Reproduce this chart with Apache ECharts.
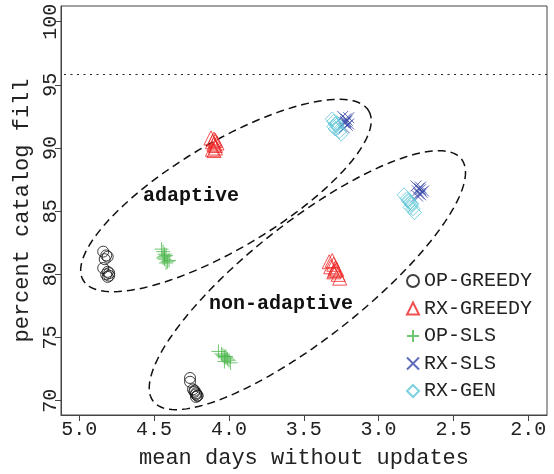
<!DOCTYPE html>
<html lang="en">
<head>
    <meta charset="UTF-8">
    <title>catalog fill</title>
    <style>
        html, body { margin: 0; padding: 0; background: #fff; }
        #chart { width: 554px; height: 474px; }
    </style>
</head>
<body>
    <div id="chart"></div>
    <script src="https://cdn.jsdelivr.net/npm/echarts@6/dist/echarts.min.js"></script>
    <script>
        // tick labels
        var xTicks = [5.0, 4.5, 4.0, 3.5, 3.0, 2.5, 2.0]
        var yTicks = [70, 75, 80, 85, 90, 95, 100]
        var refLevel = 95.8

        // adaptive runs
        var opGreedyAdX = [4.84, 4.82, 4.83, 4.81, 4.84, 4.81, 4.80, 4.82, 4.80, 4.81]
        var opGreedyAdY = [81.8, 81.5, 81.2, 81.4, 80.5, 80.2, 79.9, 80.0, 80.1, 79.8]
        var rxGreedyAdX = [4.12, 4.10, 4.09, 4.11, 4.08, 4.10, 4.09, 4.11, 4.10, 4.09]
        var rxGreedyAdY = [90.8, 90.7, 90.6, 90.5, 90.4, 90.3, 90.0, 89.9, 89.8, 90.2]
        var opSlsAdX = [4.45, 4.44, 4.43, 4.42, 4.44, 4.43, 4.41, 4.42, 4.43, 4.40]
        var opSlsAdY = [82.0, 81.8, 81.6, 81.5, 81.3, 81.2, 81.0, 80.9, 81.4, 81.1]
        var rxSlsAdX = [3.24, 3.22, 3.21, 3.23, 3.20, 3.22, 3.21, 3.23, 3.20, 3.22]
        var rxSlsAdY = [92.5, 92.3, 92.2, 92.0, 91.9, 92.1, 91.8, 91.6, 92.4, 92.0]
        var rxGenAdX = [3.31, 3.30, 3.29, 3.28, 3.27, 3.29, 3.26, 3.25, 3.28, 3.30]
        var rxGenAdY = [92.3, 92.1, 91.9, 91.8, 91.6, 91.5, 91.3, 91.1, 92.0, 91.7]

        // non-adaptive runs
        var opGreedyNaX = [4.26, 4.26, 4.24, 4.23, 4.22, 4.22, 4.21, 4.23, 4.22, 4.21]
        var opGreedyNaY = [71.8, 71.5, 70.9, 70.7, 70.6, 70.5, 70.4, 70.8, 70.3, 70.4]
        var rxGreedyNaX = [3.33, 3.31, 3.30, 3.32, 3.29, 3.28, 3.30, 3.27, 3.26, 3.29]
        var rxGreedyNaY = [81.0, 81.1, 80.8, 80.6, 80.5, 80.4, 80.2, 80.0, 79.7, 80.3]
        var opSlsNaX = [4.07, 4.05, 4.04, 4.03, 4.02, 4.01, 4.00, 4.03, 3.99, 4.02]
        var opSlsNaY = [73.9, 73.7, 73.6, 73.5, 73.4, 73.3, 73.2, 73.1, 73.0, 73.5]
        var rxSlsNaX = [2.75, 2.73, 2.72, 2.74, 2.71, 2.73, 2.72, 2.74, 2.70, 2.72]
        var rxSlsNaY = [87.0, 86.8, 86.7, 86.6, 86.5, 86.4, 86.3, 86.2, 86.6, 86.9]
        var rxGenNaX = [2.83, 2.81, 2.80, 2.79, 2.78, 2.79, 2.77, 2.76, 2.78, 2.80]
        var rxGenNaY = [86.3, 86.0, 85.8, 85.7, 85.5, 85.3, 85.2, 84.9, 85.6, 85.9]

        var font = '"Liberation Mono", "DejaVu Sans Mono", monospace'

        function pairs(xa, ya, xb, yb) {
            var out = []
            for (var i = 0; i < xa.length; i++) out.push([xa[i], ya[i]])
            for (var j = 0; j < xb.length; j++) out.push([xb[j], yb[j]])
            return out
        }

        // group outlines: centre in data units, radii (px) and tilt (deg)
        var ellipses = [
            { cx: 4.020, cy: 86.24, a: 166, b: 53, angle: 30.7 },
            { cx: 3.476, cy: 79.54, a: 196, b: 58, angle: 38.2 }
        ]

        var plus = 'path://M5,0L5,10M0,5L10,5'
        var cross = 'path://M0,0L10,10M10,0L0,10'

        var mySeries = [
            { name: 'OP-GREEDY', symbol: 'circle', size: 11, color: '#111111', data: pairs(opGreedyAdX, opGreedyAdY, opGreedyNaX, opGreedyNaY) },
            { name: 'RX-GREEDY', symbol: 'triangle', size: 14, color: '#ee2424', data: pairs(rxGreedyAdX, rxGreedyAdY, rxGreedyNaX, rxGreedyNaY) },
            { name: 'OP-SLS', symbol: plus, size: 14, color: '#4fb84f', data: pairs(opSlsAdX, opSlsAdY, opSlsNaX, opSlsNaY) },
            { name: 'RX-SLS', symbol: cross, size: 11, color: '#3446a8', data: pairs(rxSlsAdX, rxSlsAdY, rxSlsNaX, rxSlsNaY) },
            { name: 'RX-GEN', symbol: 'diamond', size: 14, color: '#5cc6d6', data: pairs(rxGenAdX, rxGenAdY, rxGenNaX, rxGenNaY) }
        ]

        var series = mySeries.map(function (s) {
            return {
                name: s.name,
                type: 'scatter',
                symbol: s.symbol,
                symbolSize: s.size,
                data: s.data,
                itemStyle: { color: 'transparent', borderColor: s.color, borderWidth: 1 },
                emphasis: { disabled: true }
            }
        })

        // dotted reference level
        series[0].markLine = {
            silent: true,
            symbol: ['none', 'none'],
            label: { show: false },
            lineStyle: { color: '#222', type: [2, 4.5], width: 1 },
            data: [{ yAxis: refLevel }]
        }

        series.push({
            type: 'custom',
            silent: true,
            data: ellipses.map(function (e) { return [e.cx, e.cy] }),
            renderItem: function (params, api) {
                var e = ellipses[params.dataIndex]
                var c = api.coord([e.cx, e.cy])
                var t = e.angle * Math.PI / 180
                var pts = []
                for (var i = 0; i < 160; i++) {
                    var s = i / 160 * Math.PI * 2
                    var ex = e.a * Math.cos(s)
                    var ey = e.b * Math.sin(s)
                    pts.push([c[0] + ex * Math.cos(t) + ey * Math.sin(t),
                              c[1] - ex * Math.sin(t) + ey * Math.cos(t)])
                }
                return {
                    type: 'polygon',
                    shape: { points: pts },
                    style: { fill: 'none', stroke: '#111', lineWidth: 1.5, lineDash: [8, 5] }
                }
            }
        })

        var myChart = echarts.init(document.getElementById('chart'))
        var option = {
            animation: false,
            backgroundColor: '#fff',
            grid: { left: 61, right: 7, top: 6, bottom: 57, show: true, borderColor: '#444', borderWidth: 1 },
            xAxis: {
                type: 'value',
                inverse: true,
                min: 1.875,
                max: 5.122,
                splitLine: { show: false },
                axisLine: { lineStyle: { color: '#444' } },
                axisTick: { customValues: xTicks, length: 6, lineStyle: { color: '#444' } },
                axisLabel: {
                    customValues: xTicks, margin: 5, color: '#222', fontFamily: font, fontSize: 20,
                    formatter: function (v) { return v.toFixed(1) }
                },
                name: 'mean days without updates',
                nameLocation: 'middle',
                nameGap: 32,
                nameTextStyle: { color: '#222', fontFamily: font, fontSize: 22 }
            },
            yAxis: {
                type: 'value',
                min: 68.87,
                max: 101.24,
                splitLine: { show: false },
                axisLine: { lineStyle: { color: '#444' } },
                axisTick: { customValues: yTicks, length: 6, lineStyle: { color: '#444' } },
                axisLabel: { customValues: yTicks, rotate: 90, margin: 0, color: '#222', fontFamily: font, fontSize: 20 },
                name: 'percent catalog fill',
                nameLocation: 'middle',
                nameRotate: 90,
                nameGap: 24,
                nameTextStyle: { color: '#222', fontFamily: font, fontSize: 22 }
            },
            legend: {
                orient: 'vertical',
                left: 406,
                top: 271,
                padding: 0,
                itemWidth: 12,
                itemHeight: 12,
                itemGap: 7.5,
                data: mySeries.map(function (s) { return s.name }),
                textStyle: { color: '#222', fontFamily: font, fontSize: 20, lineHeight: 20 }
            },
            graphic: [
                { type: 'text', left: 143, top: 186, style: { text: 'adaptive', font: 'bold 20px ' + font, fill: '#111' } },
                { type: 'text', left: 209, top: 294, style: { text: 'non-adaptive', font: 'bold 20px ' + font, fill: '#111' } }
            ],
            series: series
        }
        myChart.setOption(option)
    </script>
</body>
</html>
